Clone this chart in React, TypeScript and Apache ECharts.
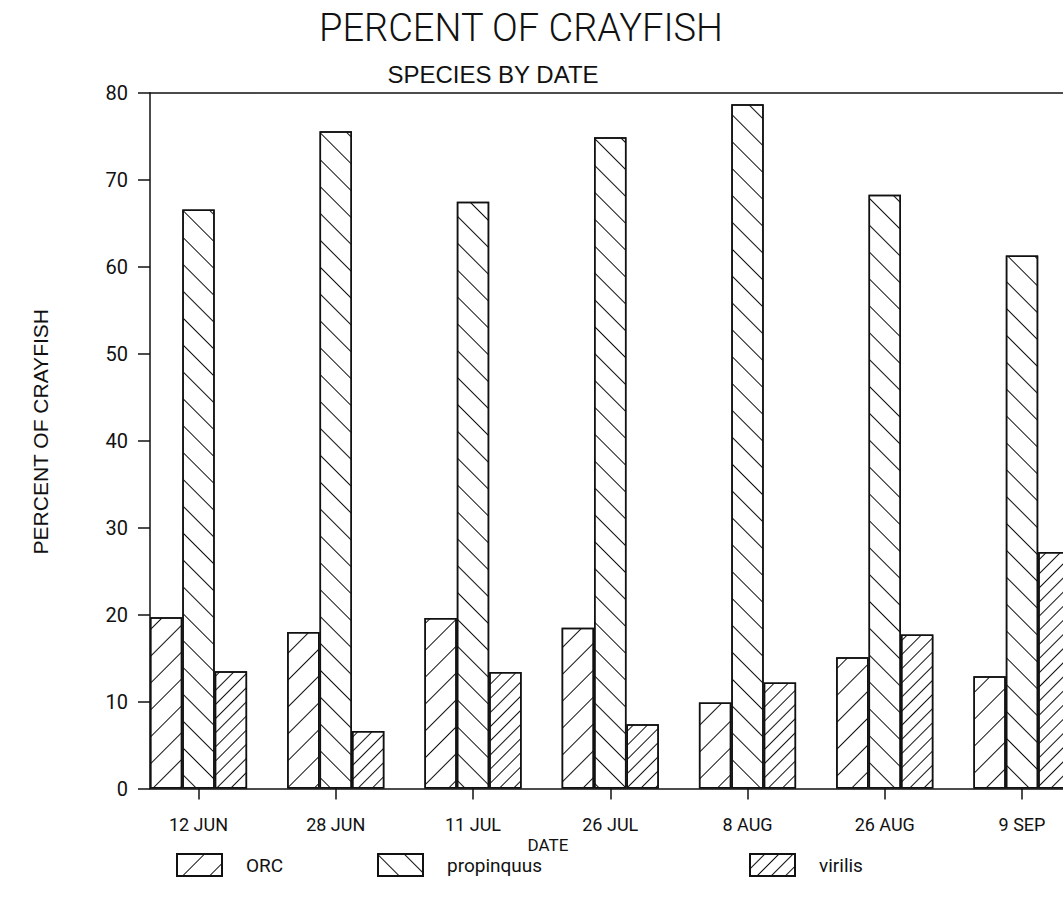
import React, { useEffect, useRef } from "react";
import * as echarts from "echarts";

const dates = ["12 JUN", "28 JUN", "11 JUL", "26 JUL", "8 AUG", "26 AUG", "9 SEP"];
const orc = [19.7, 18.0, 19.6, 18.5, 9.9, 15.1, 12.9];
const propinquus = [66.6, 75.6, 67.5, 74.9, 78.7, 68.3, 61.3];
const virilis = [13.5, 6.6, 13.4, 7.4, 12.2, 17.7, 27.2];
const yMin = 0;
const yMax = 80;
const yStep = 10;

const FONT = "Roboto";
const WIDE = "Liberation Sans";
const INK = "#111";

export default function App() {
  const ref = useRef<HTMLDivElement>(null);

  useEffect(() => {
    document.body.style.margin = "0";
    if (!ref.current) return;
    const chart = echarts.init(ref.current, null, { renderer: "svg" });

    const idx = dates.map((_, i) => i);
    const pairs = (arr: number[]) => arr.map((v, i) => [i, v]);
    const xMin = -0.3534;
    const xMax = 6.55;

    const decal = (rot: number, gap: number) => ({
      symbol: "rect",
      symbolSize: 1,
      dashArrayX: [1, 0],
      dashArrayY: [1, gap],
      rotation: rot,
      color: INK,
      backgroundColor: "#fff",
    });

    const barStyle = (rot: number, gap: number) => ({
      color: "#fff",
      borderColor: INK,
      borderWidth: 1.5,
      decal: decal(rot, gap),
    });

    const legendBase = {
      orient: "horizontal" as const,
      itemWidth: 45,
      itemHeight: 22,
      top: 848,
      icon: "rect",
      textStyle: {
        fontFamily: FONT,
        fontSize: 19,
        color: INK,
        padding: [0, 0, 0, 19],
      },
    };

    chart.setOption({
      animation: false,
      backgroundColor: "#fff",
      grid: {
        left: 150,
        top: 93,
        width: (xMax - xMin) * 137.25,
        height: 695.5,
        containLabel: false,
        outerBoundsMode: "none",
      },
      graphic: [
        {
          type: "text",
          x: 521,
          y: 9,
          style: {
            text: "PERCENT OF CRAYFISH",
            align: "center",
            fontFamily: FONT,
            fontWeight: 300,
            fontSize: 38,
            fill: INK,
          },
        },
        {
          type: "text",
          x: 493,
          y: 62,
          style: {
            text: "SPECIES BY DATE",
            align: "center",
            fontFamily: WIDE,
            fontSize: 24,
            fill: INK,
          },
        },
        {
          type: "text",
          x: 548,
          y: 836,
          style: {
            text: "DATE",
            align: "center",
            fontFamily: FONT,
            fontSize: 17,
            fill: INK,
          },
        },
      ],
      legend: [
        { ...legendBase, left: 171, data: ["ORC"] },
        { ...legendBase, left: 372, data: ["propinquus"] },
        { ...legendBase, left: 744, data: ["virilis"] },
      ],
      xAxis: [
        {
          type: "value",
          min: xMin,
          max: xMax,
          axisLine: { show: true, onZero: false, lineStyle: { color: INK, width: 1.5 } },
          axisTick: { show: true, customValues: idx, length: 11, lineStyle: { color: INK, width: 1.5 } },
          axisLabel: {
            show: true,
            customValues: idx,
            margin: 27,
            fontFamily: FONT,
            fontSize: 18,
            color: INK,
            formatter: (v: number) => dates[Math.round(v)] ?? "",
          },
          splitLine: { show: false },
        },
        {
          type: "value",
          position: "top",
          min: xMin,
          max: xMax,
          axisLine: { show: true, onZero: false, lineStyle: { color: INK, width: 1.5 } },
          axisTick: { show: false },
          axisLabel: { show: false },
          splitLine: { show: false },
        },
      ],
      yAxis: {
        type: "value",
        min: yMin,
        max: yMax,
        interval: yStep,
        name: "PERCENT OF CRAYFISH",
        nameLocation: "middle",
        nameGap: 99,
        nameTextStyle: { fontFamily: WIDE, fontSize: 21, color: INK, padding: [0, 0, 0, 18] },
        axisLine: { show: true, onZero: false, lineStyle: { color: INK, width: 1.5 } },
        axisTick: { show: true, length: 12, lineStyle: { color: INK, width: 1.5 } },
        axisLabel: { margin: 22, fontFamily: FONT, fontSize: 20, color: INK },
        splitLine: { show: false },
      },
      series: [
        {
          name: "ORC",
          type: "bar",
          data: pairs(orc),
          barWidth: 32.4,
          barGap: "0%",
          itemStyle: barStyle(-Math.PI / 4, 18),
        },
        {
          name: "propinquus",
          type: "bar",
          data: pairs(propinquus),
          barWidth: 32.4,
          barGap: "0%",
          itemStyle: barStyle(Math.PI / 4, 18),
        },
        {
          name: "virilis",
          type: "bar",
          data: pairs(virilis),
          barWidth: 32.4,
          barGap: "0%",
          itemStyle: barStyle(-Math.PI / 4, 9),
        },
      ],
    });

    return () => chart.dispose();
  }, []);

  return <div ref={ref} style={{ width: 1063, height: 907 }} />;
}
